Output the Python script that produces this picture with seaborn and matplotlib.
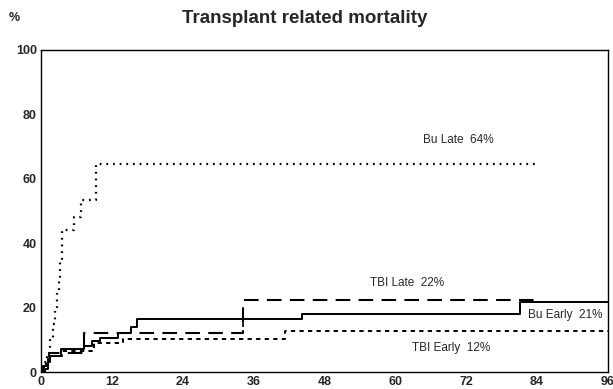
import numpy as np
import pandas as pd
import matplotlib
matplotlib.use("Agg")
import matplotlib.pyplot as plt
import seaborn as sns
from matplotlib.ticker import MultipleLocator

# Data (months, cumulative %)
bu_late_t = [0, 0.5, 1.0, 1.5, 2.0, 2.4, 2.7, 3.0, 3.2, 3.5, 5.6, 6.8, 9.3, 84]
bu_late_v = [0, 3, 6, 10, 15, 20, 25, 29, 35, 44, 48, 53.5, 64.5, 64.5]

bu_early_t = [0, 0.7, 1.1, 1.6, 3.4, 7.3, 8.6, 10.0, 13.0, 15.2, 16.2, 44.2, 81.1, 96]
bu_early_v = [0, 1, 3, 5, 7, 8, 9.5, 10.5, 12, 14, 16.4, 18, 21.7, 21.7]

tbi_late_t = [0, 0.4, 0.9, 1.3, 7.3, 34.2, 84]
tbi_late_v = [0, 2, 4, 6, 12.2, 22.5, 22.5]

tbi_early_t = [0, 0.4, 1.2, 3.5, 9.0, 13.9, 41.3, 96]
tbi_early_v = [0, 2, 5, 6.5, 9, 10.4, 12.6, 12.6]

censor_t = [34.2]
censor_v = [16.4]

labels = ["Bu Late  64%", "TBI Late  22%", "Bu Early  21%", "TBI Early  12%"]
label_x = [64.7, 55.7, 82.4, 62.8]
label_y = [72.0, 27.6, 17.6, 7.4]

x_ticks = [0, 12, 24, 36, 48, 60, 72, 84, 96]
y_ticks = [0, 20, 40, 60, 80, 100]

sns.set_style("white")
plt.rcParams['font.family'] = ['Liberation Sans', 'DejaVu Sans']

fig = plt.figure(figsize=(6.13, 3.89), dpi=100)
ax = fig.add_axes([0.0669, 0.0437, 0.9249, 0.8278])

series = [
    (bu_late_t, bu_late_v, (0, (0.8, 2.2)), 1.6),
    (bu_early_t, bu_early_v, "solid", 1.4),
    (tbi_late_t, tbi_late_v, (0, (7, 4)), 1.5),
    (tbi_early_t, tbi_early_v, (0, (2.2, 2.2)), 1.4),
]
for t, v, ls, lw in series:
    df = pd.DataFrame({"t": t, "v": v})
    sns.lineplot(data=df, x="t", y="v", ax=ax, color="black", linestyle=ls,
                 linewidth=lw, drawstyle="steps-post", estimator=None, sort=False)

cdf = pd.DataFrame({"t": censor_t, "v": censor_v})
sns.scatterplot(data=cdf, x="t", y="v", ax=ax, marker="|", s=120, color="black",
                linewidth=1.2)

for s, xx, yy in zip(labels, label_x, label_y):
    ax.text(xx, yy, s, fontsize=8.5, ha="left", va="center", clip_on=False)

ax.set_xlim(0, 96)
ax.set_ylim(0, 100)
ax.set_xticks(x_ticks)
ax.set_yticks(y_ticks)
ax.set_xticklabels([str(x) for x in x_ticks], fontweight="bold", fontsize=9)
ax.set_yticklabels([str(y) for y in y_ticks], fontweight="bold", fontsize=9)
ax.xaxis.set_minor_locator(MultipleLocator(4))
ax.yaxis.set_minor_locator(MultipleLocator(5))
ax.tick_params(axis="both", which="both", direction="in", pad=3)
ax.tick_params(which="major", length=3, width=0.8)
ax.tick_params(which="minor", length=2, width=0.6)
ax.set_xlabel("")
ax.set_ylabel("")
for sp in ax.spines.values():
    sp.set_visible(True)
    sp.set_color("black")
    sp.set_linewidth(1.0)

fig.text(0.497, 0.953, "Transplant related mortality", ha="center", va="center",
         fontsize=13.5, fontweight="bold")
fig.text(0.024, 0.953, "%", ha="center", va="center", fontsize=9, fontweight="bold")

fig.savefig("out.png", dpi=100)
